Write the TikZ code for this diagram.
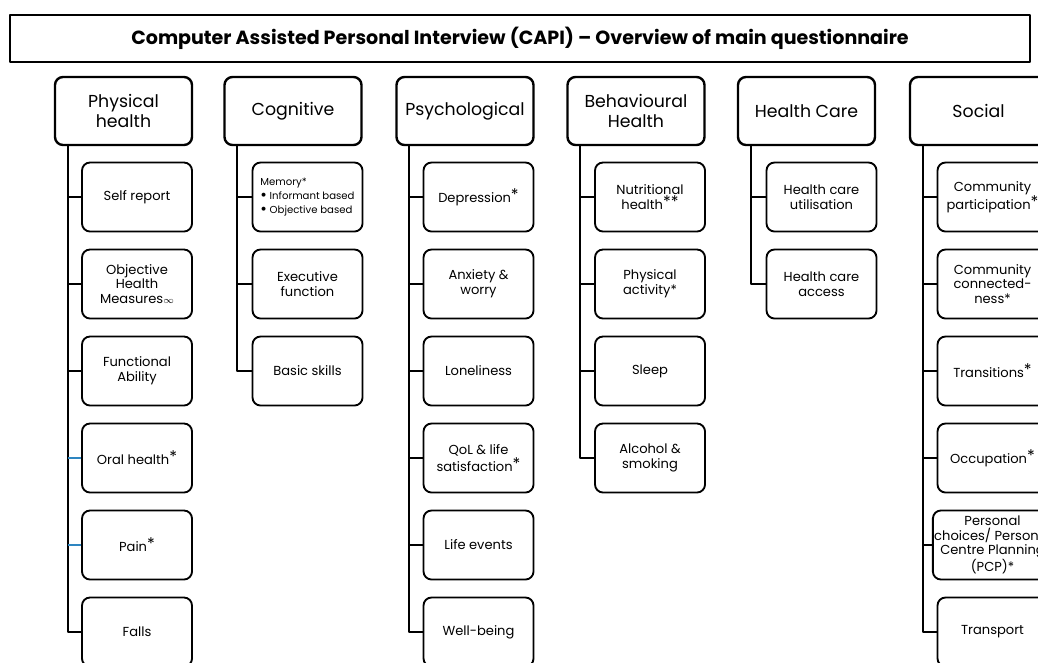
\documentclass[tikz,border=0pt]{standalone}
\usepackage{fontspec}
\setmainfont{Poppins}
\newcommand{\catfont}{\fontsize{13}{14.5}\selectfont}
\newcommand{\subfont}{\fontsize{9.8}{11}\selectfont}
\newcommand{\upstar}{\raisebox{.25ex}{\large *}}
\newcommand{\memdot}{\raisebox{-.25ex}{\large\textbullet}}
\definecolor{tickblue}{RGB}{46,134,193}
\begin{document}
\begin{tikzpicture}[x=0.75pt,y=-0.75pt,line join=round,
  titlebox/.style={draw,line width=1.1pt,minimum width=765pt,minimum height=35pt,font=\fontsize{14.3}{16}\selectfont\bfseries},
  catbox/.style={draw,line width=1.8pt,rounded corners=6pt,minimum width=102.75pt,minimum height=51pt,align=center,font=\catfont,inner sep=1pt},
  subbox/.style={draw,line width=1.4pt,rounded corners=6pt,minimum width=82.5pt,minimum height=51.75pt,align=center,font=\subfont,inner sep=1pt},
  trunk/.style={line width=1.4pt}]
  \clip (0,0) rectangle (1038,662);
  \fill[white] (0,0) rectangle (1038,662);
  % title
  \node[titlebox] (title) at (520,38.5) {Computer Assisted Personal Interview (CAPI) -- Overview of main questionnaire};
  % domains
  \node[catbox] (phys) at (123.5,111) {Physical\\health};
  \node[catbox] (cogn) at (293,111) {Cognitive};
  \node[catbox] (psych) at (465,111) {Psychological};
  \node[catbox] (behav) at (636,111) {Behavioural\\Health};
  \node[catbox] (hcare) at (806.5,111) {Health Care};
  \node[catbox] (social) at (978.5,111) {Social};
  % physical health
  \foreach \n/\y/\t in {ph1/197/Self report,ph2/284/Objective\\Health\\Measures{\scriptsize$\infty$},
      ph3/371/Functional\\Ability,ph4/458/Oral health\upstar,ph5/545/Pain\upstar,ph6/632/Falls}
    \node[subbox] (\n) at (137,\y) {\t};
  % cognitive
  \node[subbox,align=left,font=\fontsize{7.6}{10.5}\selectfont] (cg1) at (307.5,197)
    {Memory*\\\memdot\ Informant based\\\memdot\ Objective based};
  \foreach \n/\y/\t in {cg2/284/Executive\\function,cg3/371/Basic skills}
    \node[subbox] (\n) at (307.5,\y) {\t};
  % psychological
  \foreach \n/\y/\t in {ps1/197/Depression\upstar,ps2/284/Anxiety \&\\worry,ps3/371/Loneliness,
      ps4/458/QoL \& life\\satisfaction\upstar,ps5/545/Life events,ps6/632/Well-being}
    \node[subbox] (\n) at (478.5,\y) {\t};
  % behavioural
  \foreach \n/\y/\t in {bh1/197/Nutritional\\health\raisebox{.25ex}{\large **},bh2/284/Physical\\activity*,
      bh3/371/Sleep,bh4/458/Alcohol \&\\smoking}
    \node[subbox] (\n) at (650,\y) {\t};
  % health care
  \foreach \n/\y/\t in {hc1/197/Health care\\utilisation,hc2/284/Health care\\access}
    \node[subbox] (\n) at (821.5,\y) {\t};
  % social
  \foreach \n/\y/\t in {so1/197/Community\\participation\upstar,so2/284/Community\\connected-\\ness*,
      so3/371/Transitions\upstar,so4/458/Occupation\upstar,
      so5/545/{Personal\\choices/ Personal\\Centre Planning\\(PCP)*},so6/632/Transport}
    \node[subbox] (\n) at (992.5,\y) {\t};
  % trunks
  \draw[trunk] ([xshift=10.5pt]phys.south west) |- (ph6.west);
  \draw[trunk] ([xshift=10.5pt]cogn.south west) |- (cg3.west);
  \draw[trunk] ([xshift=10.5pt]psych.south west) |- (ps6.west);
  \draw[trunk] ([xshift=10.5pt]behav.south west) |- (bh4.west);
  \draw[trunk] ([xshift=10.5pt]hcare.south west) |- (hc2.west);
  \draw[trunk] ([xshift=10.5pt]social.south west) |- (so6.west);
  % ticks
  \foreach \n in {ph1,ph2,ph3}
    \draw[trunk] (\n.west) -- ([xshift=10.5pt]\n.west -| phys.south west);
  \foreach \n in {ph4,ph5}
    \draw[trunk,tickblue,line width=1pt] (\n.west) -- ([xshift=10.5pt]\n.west -| phys.south west);
  \foreach \n in {cg1,cg2}
    \draw[trunk] (\n.west) -- ([xshift=10.5pt]\n.west -| cogn.south west);
  \foreach \n in {ps1,ps2,ps3,ps4,ps5}
    \draw[trunk] (\n.west) -- ([xshift=10.5pt]\n.west -| psych.south west);
  \foreach \n in {bh1,bh2,bh3}
    \draw[trunk] (\n.west) -- ([xshift=10.5pt]\n.west -| behav.south west);
  \draw[trunk] (hc1.west) -- ([xshift=10.5pt]hc1.west -| hcare.south west);
  \foreach \n in {so1,so2,so3,so4,so5}
    \draw[trunk] (\n.west) -- ([xshift=10.5pt]\n.west -| social.south west);
\end{tikzpicture}
\end{document}
